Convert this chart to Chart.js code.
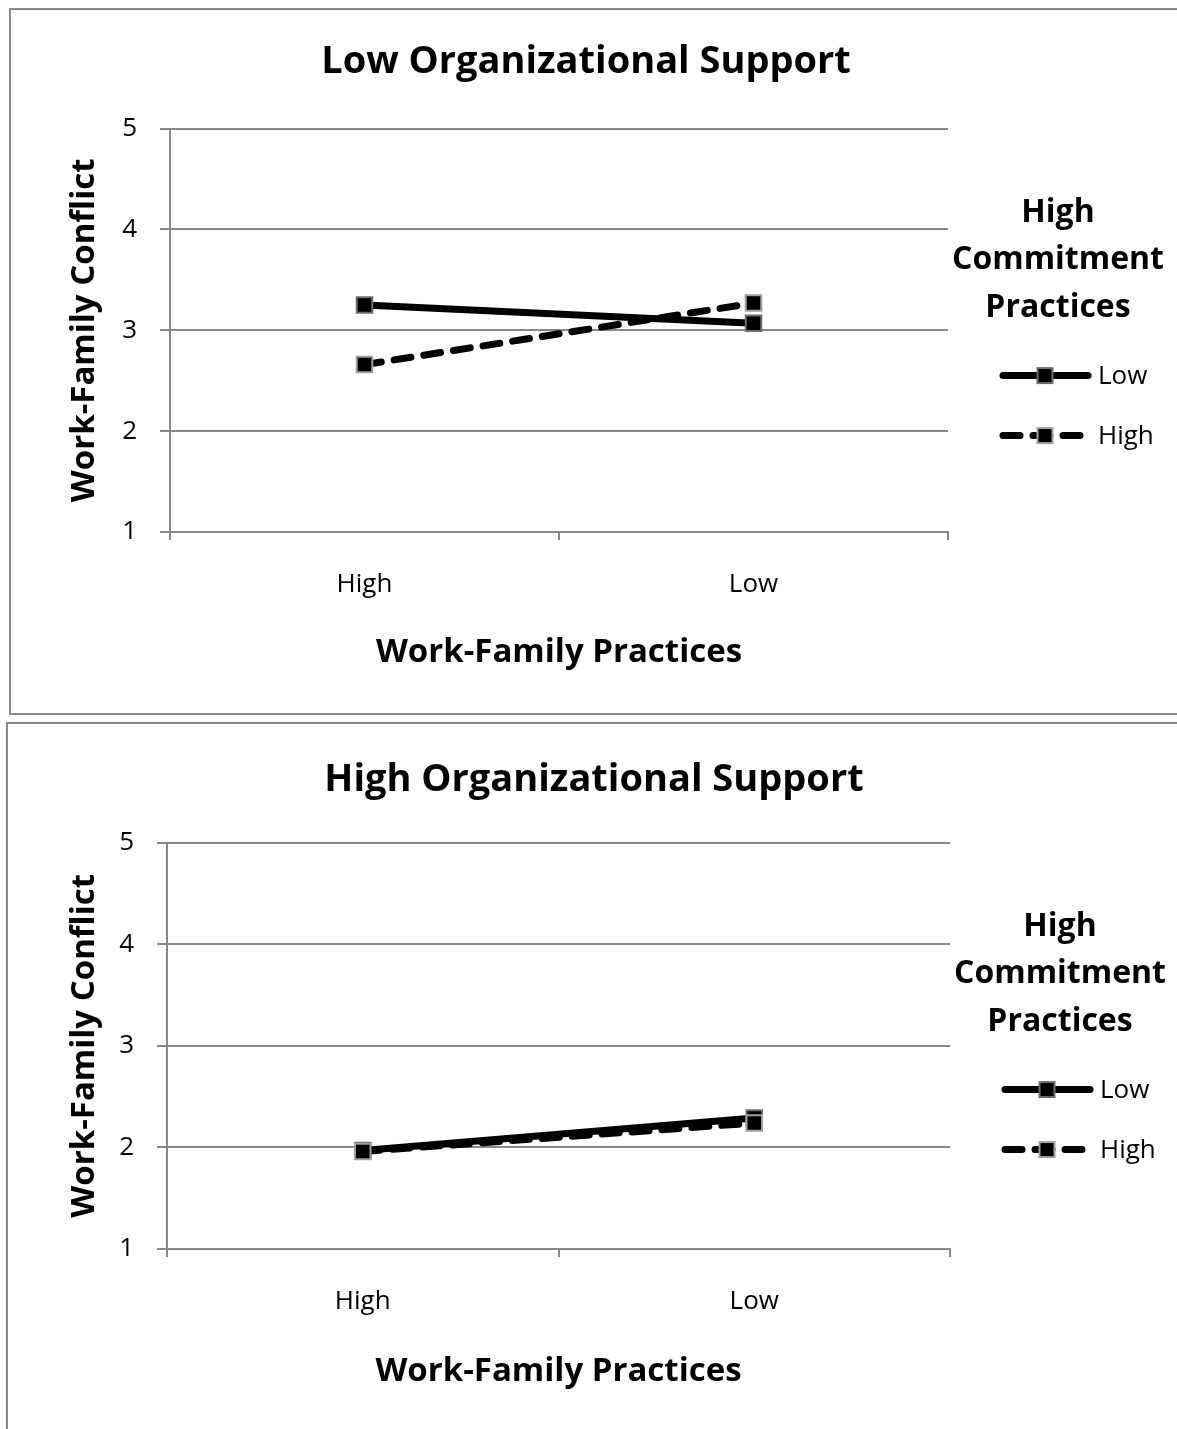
<!DOCTYPE html>
<html>
<head>
<meta charset="utf-8">
<script src="https://cdn.jsdelivr.net/npm/chart.js@4"></script>
<style>
  html, body { margin: 0; padding: 0; background: #fff; overflow: hidden; }
  body { width: 1177px; height: 1429px; position: relative; }
  .box { position: absolute; border: 2px solid #898989; background: #fff; }
  #box1 { left: 9px; top: 8px; width: 1200px; height: 703px; }
  #box2 { left: 6px; top: 722px; width: 1200px; height: 740px; }
  canvas { display: block; }
</style>
</head>
<body>
<div class="box" id="box1"><canvas id="chartLow" width="1172" height="703"></canvas></div>
<div class="box" id="box2"><canvas id="chartHigh" width="1172" height="703"></canvas></div>
<script>
// x-axis categories
var practices = ["High", "Low"];
// y-axis range / ticks
var yMin = 1, yMax = 5;
// legend
var legendTitle = ["High", "Commitment", "Practices"];
var seriesNames = ["Low", "High"];
// Low organizational support
var lowSupport_lowHCP = [3.25, 3.07];
var lowSupport_highHCP = [2.66, 3.27];
// High organizational support
var highSupport_lowHCP = [1.97, 2.29];
var highSupport_highHCP = [1.96, 2.24];

var FONT = "'Open Sans', Lato, sans-serif";
Chart.defaults.font.family = FONT;
Chart.defaults.color = "#000";

var GRID = "#898989";

// draws the legend block on the right of the plot
var sideLegend = {
  id: "sideLegend",
  afterDraw: function (chart) {
    var ctx = chart.ctx, a = chart.chartArea;
    var x0 = a.right, y0 = a.top;
    ctx.save();
    ctx.fillStyle = "#000";
    ctx.textAlign = "center";
    ctx.textBaseline = "middle";
    ctx.font = "bold 32px " + FONT;
    for (var i = 0; i < legendTitle.length; i++) {
      ctx.fillText(legendTitle[i], x0 + 110, y0 + 84 + i * 47.5);
    }
    chart.data.datasets.forEach(function (ds, k) {
      var y = y0 + 247 + k * 60;
      ctx.strokeStyle = ds.borderColor;
      ctx.lineWidth = ds.borderWidth;
      ctx.lineCap = "round";
      ctx.setLineDash(ds.borderDash || []);
      ctx.beginPath();
      ctx.moveTo(x0 + 55, y);
      ctx.lineTo(x0 + 140, y);
      ctx.stroke();
      ctx.setLineDash([]);
      var s = 15, mx = x0 + 97;
      ctx.fillStyle = ds.pointBackgroundColor;
      ctx.fillRect(mx - s / 2, y - s / 2, s, s);
      ctx.strokeStyle = ds.pointBorderColor;
      ctx.lineWidth = ds.pointBorderWidth;
      ctx.strokeRect(mx - s / 2, y - s / 2, s, s);
      ctx.fillStyle = "#000";
      ctx.textAlign = "left";
      ctx.font = "26px " + FONT;
      ctx.fillText(ds.label, x0 + 150, y + 1);
    });
    ctx.restore();
  }
};

function makeDatasets(lowVals, highVals) {
  return [
    {
      label: seriesNames[0],
      data: lowVals,
      yAxisID: "y",
      borderColor: "#000",
      borderWidth: 7,
      pointStyle: "rect",
      pointRadius: 11,
      pointBackgroundColor: "#000",
      pointBorderColor: "#6e6e6e",
      pointBorderWidth: 2,
      order: 2
    },
    {
      label: seriesNames[1],
      data: highVals,
      yAxisID: "y",
      borderColor: "#000",
      borderWidth: 7,
      borderDash: [17, 13],
      borderCapStyle: "round",
      pointStyle: "rect",
      pointRadius: 11,
      pointBackgroundColor: "#000",
      pointBorderColor: "#a0a0a0",
      pointBorderWidth: 2,
      order: 1
    }
  ];
}

function makeChart(id, title, lowVals, highVals, p) {
  return new Chart(document.getElementById(id), {
    type: "line",
    data: { labels: practices, datasets: makeDatasets(lowVals, highVals) },
    plugins: [sideLegend],
    options: {
      responsive: false,
      animation: false,
      layout: { padding: { left: 0, right: p.padRight, top: 0, bottom: 0 } },
      plugins: {
        legend: { display: false },
        tooltip: { enabled: false },
        title: {
          display: true,
          text: title,
          color: "#000",
          font: { size: 38, weight: "bold" },
          padding: { top: p.titleTop, bottom: p.titleBottom }
        }
      },
      scales: {
        x: {
          type: "category",
          offset: true,
          grid: { offset: true, drawOnChartArea: false, color: GRID, lineWidth: 2, tickLength: 8 },
          border: { color: GRID, width: 2 },
          ticks: { font: { size: 26 }, padding: 29, color: "#000" },
          title: {
            display: true,
            text: "Work-Family Practices",
            color: "#000",
            font: { size: 33, weight: "bold" },
            padding: { top: 0, bottom: p.xTitleBottom }
          },
          afterFit: function (s) { s.height = p.xHeight; }
        },
        y: {
          min: yMin,
          max: yMax,
          grid: { color: GRID, lineWidth: 2, tickLength: 10 },
          border: { color: GRID, width: 2 },
          ticks: { stepSize: 1, font: { size: 26 }, padding: 23, color: "#000" },
          title: {
            display: true,
            text: "Work-Family Conflict",
            color: "#000",
            font: { size: 33, weight: "bold" },
            padding: { top: p.yTitleTop, bottom: 0 }
          },
          afterFit: function (s) { s.width = 159; }
        },
        spacer: {
          axis: "y",
          type: "linear",
          position: "right",
          ticks: { display: false },
          grid: { display: false },
          border: { display: false },
          afterFit: function (s) { s.width = p.spacer; }
        }
      }
    }
  });
}

makeChart("chartLow", "Low Organizational Support", lowSupport_lowHCP, lowSupport_highHCP, {
  padRight: 22, spacer: 213, titleTop: 29, titleBottom: 44, xHeight: 181, xTitleBottom: 41, yTitleTop: 54
});
makeChart("chartHigh", "High Organizational Support", highSupport_lowHCP, highSupport_highHCP, {
  padRight: 0, spacer: 230, titleTop: 33, titleBottom: 40, xHeight: 178, xTitleBottom: 36, yTitleTop: 57
});
</script>
</body>
</html>
